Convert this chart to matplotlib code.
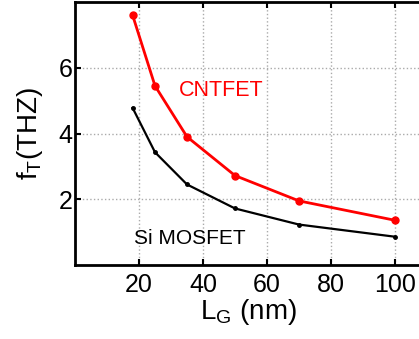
import matplotlib
matplotlib.use("Agg")
import matplotlib.pyplot as plt

plt.rcParams['font.family'] = ['Liberation Sans', 'DejaVu Sans']

lg = [18, 25, 35, 50, 70, 100]
ft_cnt = [7.6, 5.45, 3.9, 2.72, 1.95, 1.36]
ft_si = [4.78, 3.43, 2.45, 1.72, 1.23, 0.86]
xticks = [20, 40, 60, 80, 100]
yticks = [2, 4, 6]

fig = plt.figure(figsize=(4.19, 3.39), dpi=100)
# axes is cropped on the right in the reference
ax = fig.add_axes([75 / 419, 74 / 339, 352 / 419, 263 / 339])

ax.plot(lg, ft_cnt, color='red', lw=2, marker='o', ms=5)
ax.plot(lg, ft_si, color='black', lw=1.6, marker='o', ms=2.5)

ax.set_xlim(0, 110)
ax.set_ylim(0, 8)
ax.set_xticks(xticks)
ax.set_yticks(yticks)
ax.grid(True, color='#aaaaaa', linestyle=':', linewidth=1)
ax.tick_params(direction='in', top=True, right=False, labelsize=18, length=4, width=1.5)
ax.tick_params(axis='y', pad=2)
ax.tick_params(axis='x', pad=6)
for side in ['left', 'bottom', 'top']:
    ax.spines[side].set_linewidth(2)
ax.spines['right'].set_visible(False)

ax.text(32.5, 5.15, 'CNTFET', color='red', fontsize=15.5)
ax.text(18.5, 0.65, 'Si MOSFET', color='black', fontsize=15)

ax.set_xlabel(r'L$_\mathregular{G}$ (nm)', fontsize=20)
ax.xaxis.set_label_coords((248 - 75) / 352, -32 / 263)
ax.set_ylabel(r'f$_\mathregular{T}$(THZ)', fontsize=20)
ax.yaxis.set_label_coords(-30 / 352, 0.5)

fig.savefig('out.png', dpi=100)
